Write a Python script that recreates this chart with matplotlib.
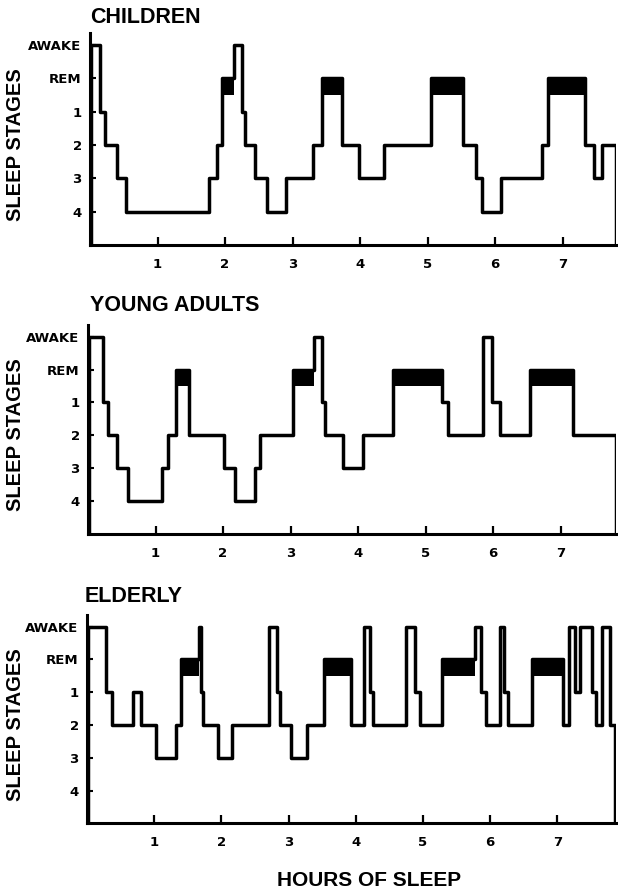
import matplotlib.pyplot as plt
import numpy as np

# sleep stage ladder, top to bottom (AWAKE at the top of each panel)
stage_labels = ["AWAKE", "REM", "1", "2", "3", "4"]
hour_ticks = [1, 2, 3, 4, 5, 6, 7]

# hypnograms: stage boundaries (hours) and the stage in between
children_edges = [0.01, 0.15, 0.22, 0.40, 0.54, 1.77, 1.88, 1.95, 2.14, 2.25,
                  2.30, 2.44, 2.62, 2.91, 3.31, 3.43, 3.74, 3.98, 4.35, 5.05,
                  5.52, 5.72, 5.80, 6.09, 6.69, 6.79, 7.33, 7.46, 7.58, 7.79]
children_stages = ["AWAKE", "1", "2", "3", "4", "3", "2", "REM", "AWAKE",
                   "1", "2", "3", "4", "3", "2", "REM", "2", "3", "2", "REM",
                   "2", "3", "4", "3", "2", "REM", "2", "3", "2"]

young_edges = [0.01, 0.22, 0.29, 0.43, 0.59, 1.10, 1.18, 1.30, 1.49, 2.01,
               2.18, 2.47, 2.55, 3.04, 3.35, 3.46, 3.51, 3.78, 4.08, 4.52,
               5.24, 5.34, 5.85, 5.98, 6.10, 6.55, 7.18, 7.82]
young_stages = ["AWAKE", "1", "2", "3", "4", "3", "2", "REM", "2", "3", "4",
                "3", "2", "REM", "AWAKE", "1", "2", "3", "2", "REM", "1", "2",
                "AWAKE", "1", "2", "REM", "2"]

elderly_edges = [0.01, 0.29, 0.37, 0.68, 0.80, 1.02, 1.32, 1.40, 1.66, 1.69,
                 1.73, 1.95, 2.16, 2.71, 2.82, 2.87, 3.03, 3.28, 3.52, 3.93,
                 4.12, 4.21, 4.26, 4.75, 4.88, 4.96, 5.28, 5.77, 5.87, 5.94,
                 6.15, 6.21, 6.27, 6.62, 7.09, 7.18, 7.26, 7.34, 7.51, 7.58,
                 7.66, 7.78, 7.86]
elderly_stages = ["AWAKE", "1", "2", "1", "2", "3", "2", "REM", "AWAKE", "1",
                  "2", "3", "2", "AWAKE", "1", "2", "3", "2", "REM", "2",
                  "AWAKE", "1", "2", "AWAKE", "1", "2", "REM", "AWAKE", "1",
                  "2", "AWAKE", "1", "2", "REM", "2", "AWAKE", "1", "AWAKE",
                  "1", "2", "AWAKE", "2"]

FIG_W, FIG_H = 618, 896
RIGHT_PX = 616

# (title, edges, stages, axis left px, axis bottom px, AWAKE row px, px per stage, px per hour, title pos)
panels = [
    ("CHILDREN", children_edges, children_stages, 90, 245.0, 45.0, 33.3, 67.5, (90, 23)),
    ("YOUNG ADULTS", young_edges, young_stages, 88, 534.0, 336.7, 32.8, 67.5, (90, 311)),
    ("ELDERLY", elderly_edges, elderly_stages, 87, 823.3, 626.7, 32.8, 67.2, (85, 602)),
]

title_font = ["Liberation Sans", "DejaVu Sans"]
tick_font = "DejaVu Sans"

fig = plt.figure(figsize=(FIG_W / 100, FIG_H / 100), dpi=100)

for title, edges, stages, left, bottom, awake, unit, per_hour, tpos in panels:
    top = awake - 0.35 * unit
    ax = fig.add_axes([left / FIG_W, 1 - bottom / FIG_H,
                       (RIGHT_PX - left) / FIG_W, (bottom - top) / FIG_H])
    levels = np.array([stage_labels.index(s) for s in stages], dtype=float)
    n_levels = len(stage_labels)

    # the trace rises from the time axis and drops back to it at the end
    ax.stairs(levels, edges, baseline=n_levels, color="black", lw=2.5,
              joinstyle="round")

    # REM periods get a solid black band under the REM line
    for i, s in enumerate(stages):
        if s == "REM":
            ax.fill_between([edges[i], edges[i + 1]], 1, 1.5,
                            color="black", lw=0)

    ax.set_xlim(0, (RIGHT_PX - left) / per_hour)
    ax.set_ylim(n_levels, -0.35)

    ax.set_yticks(range(n_levels), stage_labels)
    ax.set_xticks(hour_ticks, [str(h) for h in hour_ticks])

    for side in ["top", "right"]:
        ax.spines[side].set_visible(False)
    for side in ["left", "bottom"]:
        ax.spines[side].set_linewidth(2.2)

    ax.tick_params(axis="y", direction="in", length=4, width=1.5, pad=6)
    ax.tick_params(axis="x", direction="in", length=6, width=1.6, pad=9)
    for lab in ax.get_yticklabels() + ax.get_xticklabels():
        lab.set_fontfamily(tick_font)
        lab.set_fontweight("bold")
        lab.set_fontsize(9.5)

    fig.text(tpos[0] / FIG_W, 1 - tpos[1] / FIG_H, title,
             family=title_font, fontweight="bold", fontsize=15.5,
             ha="left", va="baseline")
    fig.text(16 / FIG_W, 1 - (awake + 3 * unit) / FIG_H, "SLEEP STAGES",
             family=title_font, fontweight="bold", fontsize=14.5,
             rotation=90, ha="center", va="center")

fig.text(369 / FIG_W, 1 - 880 / FIG_H, "HOURS OF SLEEP",
         family=title_font, fontweight="bold", fontsize=15,
         ha="center", va="center")

fig.savefig("out.png", dpi=100)
